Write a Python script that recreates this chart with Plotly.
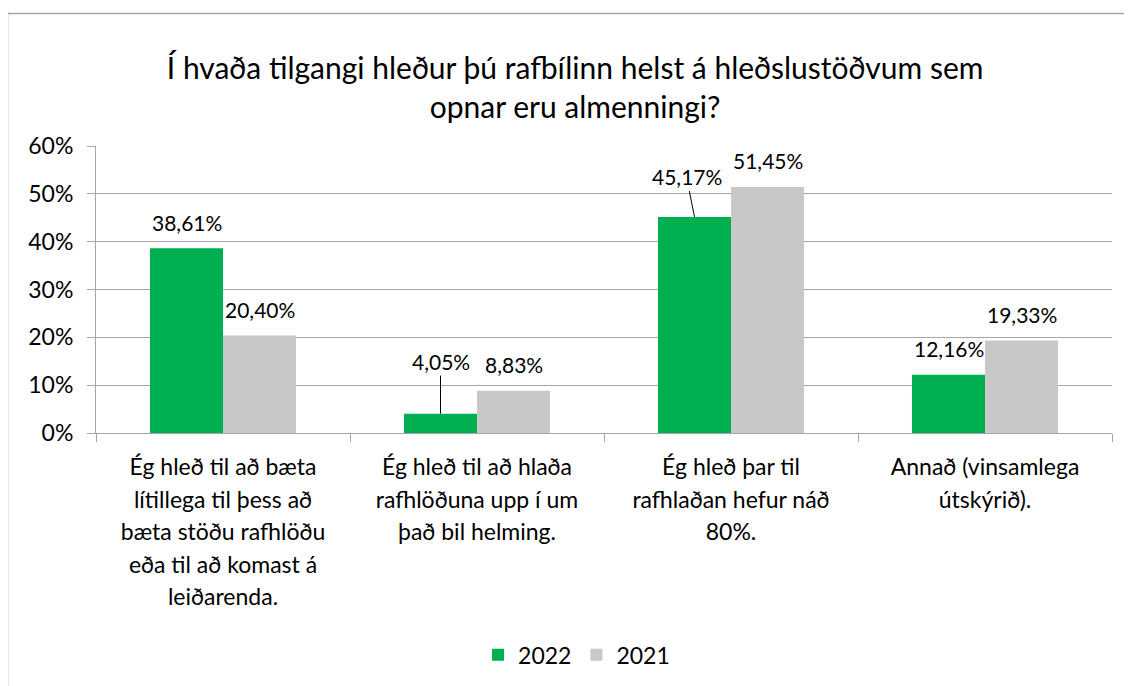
import plotly.graph_objects as go

# Data
categories = [
    "Ég hleð til að bæta<br>lítillega til þess að<br>bæta stöðu rafhlöðu<br>eða til að komast á<br>leiðarenda.",
    "Ég hleð til að hlaða<br>rafhlöðuna upp í um<br>það bil helming.",
    "Ég hleð þar til<br>rafhlaðan hefur náð<br>80%.",
    "Annað (vinsamlega<br>útskýrið).",
]
years = ["2022", "2021"]
values_2022 = [0.3861, 0.0405, 0.4517, 0.1216]
values_2021 = [0.2040, 0.0883, 0.5145, 0.1933]
title_text = "Í hvaða tilgangi hleður þú rafbílinn helst á hleðslustöðvum sem<br>opnar eru almenningi?"

series = {"2022": values_2022, "2021": values_2021}
colors = {"2022": "#00B050", "2021": "#C8C8C8"}
# moved labels with leader lines: (year, category index) -> (ax, ay) in px
leaders = {("2022", 1): (0, -52), ("2022", 2): (-8, -40)}

FONT = "Lato"
GRID = "#A6A6A6"

fig = go.Figure()
for yr in years:
    fig.add_trace(go.Bar(
        x=categories, y=series[yr], name=yr,
        marker=dict(color=colors[yr], line=dict(width=0)),
        offsetgroup=yr,
    ))

# data labels
annotations = []
for k, yr in enumerate(years):
    shift = -36.5 if k == 0 else 36.5
    for i, (cat, v) in enumerate(zip(categories, series[yr])):
        txt = f"{v * 100:.2f}%".replace(".", ",")
        if (yr, i) in leaders:
            ax, ay = leaders[(yr, i)]
            annotations.append(dict(
                x=cat, y=v, xshift=shift, text=txt, showarrow=True,
                arrowhead=0, arrowwidth=1, arrowcolor="#000000",
                ax=ax, ay=ay, standoff=0,
                font=dict(family=FONT, size=21, color="#000000"),
            ))
        else:
            annotations.append(dict(
                x=cat, y=v, xshift=shift, yshift=26, text=txt,
                showarrow=False, yanchor="middle",
                font=dict(family=FONT, size=21, color="#000000"),
            ))

tick_text = ["<br>".join(f"<span style='font-size:23px'>{ln}</span>" for ln in c.split("<br>"))
             for c in categories]

# the page body adds an 8px offset, margins are set to compensate
fig.update_layout(
    width=1132, height=686,
    margin=dict(l=88, r=28, t=138, b=261),
    paper_bgcolor="white", plot_bgcolor="white",
    barmode="group", bargap=0.425, bargroupgap=0,
    font=dict(family=FONT, color="#000000"),
    title=dict(text=title_text, x=0.501, xanchor="center", y=0.897, yanchor="middle",
               font=dict(family=FONT, size=30, color="#000000")),
    showlegend=True,
    legend=dict(orientation="h", x=0.473, xanchor="center", y=-0.773, yanchor="middle",
                font=dict(family=FONT, size=23, color="#000000"), traceorder="normal"),
    annotations=annotations,
    shapes=[
        dict(type="line", xref="paper", yref="paper", x0=-0.0871, x1=1.05, y0=1.4617, y1=1.4617,
             line=dict(color="#A6A6A6", width=1.5)),
        dict(type="line", xref="paper", yref="paper", x0=-0.0871, x1=-0.0871, y0=-1.0, y1=1.4617,
             line=dict(color="#A6A6A6", width=1.5)),
    ],
)
fig.update_xaxes(
    tickvals=categories, ticktext=tick_text, tickson="boundaries", automargin=False,
    ticks="outside", ticklen=8, tickcolor=GRID, showline=True, linecolor=GRID, linewidth=1,
    showgrid=False, tickfont=dict(family=FONT, size=25, color="#000000"), ticklabelstandoff=11,
)
fig.update_yaxes(
    range=[0, 0.6], dtick=0.1, tickformat=".0%", showgrid=True, gridcolor=GRID, gridwidth=1,
    showline=True, linecolor=GRID, linewidth=1, ticks="outside", ticklen=8, tickcolor=GRID,
    zeroline=False, tickfont=dict(family=FONT, size=23, color="#000000"), ticklabelstandoff=9,
    automargin=False,
)

fig.write_html("out.html")
